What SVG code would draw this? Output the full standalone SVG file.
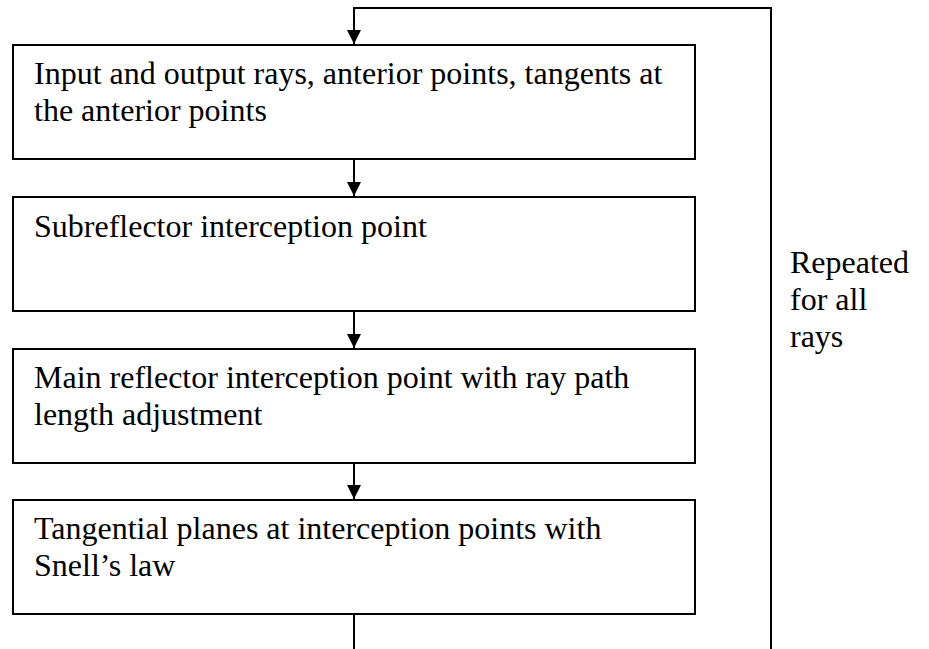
<svg xmlns="http://www.w3.org/2000/svg" width="929" height="649" viewBox="0 0 929 649">
<style>
.box{fill:#fff;stroke:#000;stroke-width:2}
.ln{fill:none;stroke:#000;stroke-width:2}
text{font-family:"Liberation Serif","Times New Roman",serif;font-size:32px;fill:#000}
</style>
<defs>
<marker id="ah" viewBox="0 0 14 14" refX="14" refY="7" markerWidth="14" markerHeight="14" markerUnits="userSpaceOnUse" orient="auto">
<path d="M0,0 L14,7 L0,14 Z" fill="#000"/>
</marker>
</defs>
<rect width="929" height="649" fill="#fff"/>
<g id="connectors">
<path class="ln" d="M771,649 V8 H354 V44" marker-end="url(#ah)"/>
<path class="ln" d="M354,159 V196" marker-end="url(#ah)"/>
<path class="ln" d="M354,311 V348" marker-end="url(#ah)"/>
<path class="ln" d="M354,463 V499" marker-end="url(#ah)"/>
<path class="ln" d="M354,614 V649"/>
</g>
<g id="node1">
<rect class="box" x="13" y="45" width="682" height="114"/>
<text x="34" y="84">Input and output rays, anterior points, tangents at</text>
<text x="34" y="121">the anterior points</text>
</g>
<g id="node2">
<rect class="box" x="13" y="197" width="682" height="114"/>
<text x="34" y="237">Subreflector interception point</text>
</g>
<g id="node3">
<rect class="box" x="13" y="349" width="682" height="114"/>
<text x="34" y="388">Main reflector interception point with ray path</text>
<text x="34" y="425">length adjustment</text>
</g>
<g id="node4">
<rect class="box" x="13" y="500" width="682" height="114"/>
<text x="34" y="539">Tangential planes at interception points with</text>
<text x="34" y="576">Snell’s law</text>
</g>
<g id="label">
<text x="790" y="273">Repeated</text>
<text x="790" y="310">for all</text>
<text x="790" y="347">rays</text>
</g>
</svg>
